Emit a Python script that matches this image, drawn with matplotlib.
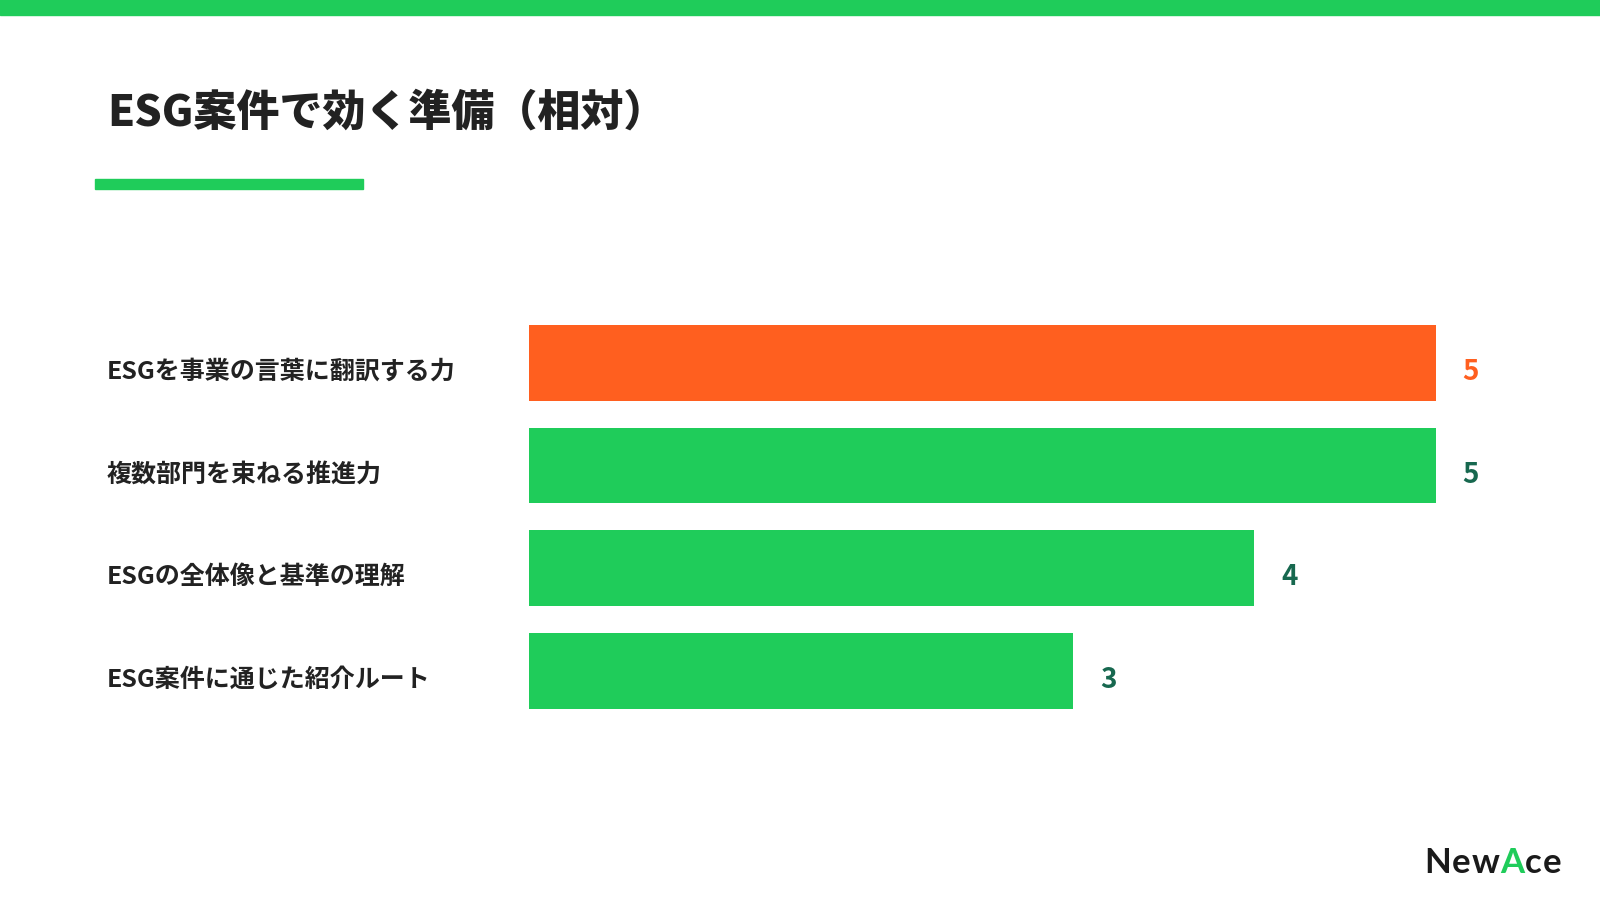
import matplotlib
matplotlib.use("Agg")
import matplotlib.pyplot as plt
from matplotlib.patches import Rectangle
from matplotlib.transforms import blended_transform_factory, offset_copy

plt.rcParams['font.family'] = ['Noto Sans CJK JP', 'DejaVu Sans']

# ---- data ----
title = "ESG案件で効く準備（相対）"
categories = ["ESGを事業の言葉に翻訳する力", "複数部門を束ねる推進力", "ESGの全体像と基準の理解", "ESG案件に通じた紹介ルート"]
values = [5, 5, 4, 3]
highlight = [True, False, False, False]

GREEN = "#1FCC5A"
ORANGE = "#FF5F1F"
DARK_GREEN = "#17684F"
TEXT = "#222222"

W, H = 1600, 903
fig = plt.figure(figsize=(W / 100, H / 100), dpi=100)
fig.patch.set_facecolor("white")

# top stripe and title underline
fig.patches.append(Rectangle((0, 1 - 15.7 / H), 1, 15.7 / H, transform=fig.transFigure,
                             color=GREEN, zorder=0))
fig.patches.append(Rectangle((95 / W, 1 - 190 / H), (363 - 95) / W, 10 / H, transform=fig.transFigure,
                             color=GREEN, zorder=0))

fig.text(107 / W, 1 - 113 / H, title, fontsize=31, fontweight="heavy", color=TEXT,
         ha="left", va="center")

# bars
top_px, bot_px = 312.6, 723.2
ax = fig.add_axes([528.6 / W, 1 - bot_px / H, (1435.7 - 528.6) / W, (bot_px - top_px) / H])
ypos = list(range(len(categories)))
colors = [ORANGE if h else GREEN for h in highlight]
ax.barh(ypos, values, height=0.737, color=colors, edgecolor="none")
ax.set_xlim(0, 5)
ax.set_ylim(len(categories) - 0.5, -0.5)
ax.axis("off")

trans = blended_transform_factory(fig.transFigure, ax.transData)
trans = offset_copy(trans, fig=fig, x=0, y=-8, units="dots")
for y, cat, v, h in zip(ypos, categories, values, highlight):
    ax.text(107 / W, y, cat, transform=trans, fontsize=18, fontweight="bold", color=TEXT,
            ha="left", va="center", clip_on=False)
    ax.annotate(str(v), xy=(v, y), xytext=(27 * 0.72, -8 * 0.72), textcoords="offset points",
                fontsize=20, fontweight="bold", color=ORANGE if h else DARK_GREEN,
                ha="left", va="center", annotation_clip=False)

# logo
renderer = fig.canvas.get_renderer()
x = 1424
yb = 1 - 873 / H
letters = [("N", "#1a1a1a"), ("e", "#1a1a1a"), ("w", "#1a1a1a"), ("A", GREEN), ("c", "#1a1a1a"), ("e", "#1a1a1a")]
for ch, col in letters:
    t = fig.text(x / W, yb, ch, fontsize=25, color=col, family="Lato", fontweight="bold",
                 ha="left", va="baseline")
    bb = t.get_window_extent(renderer=renderer)
    x += bb.width + 1

fig.savefig("out.png", dpi=100, facecolor="white")
